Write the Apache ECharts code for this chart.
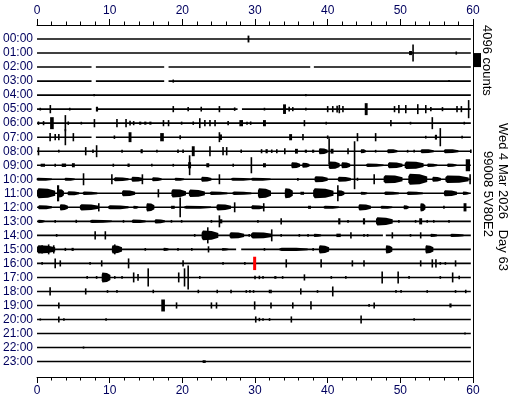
<!DOCTYPE html>
<html><head><meta charset="utf-8">
<script src="https://cdn.jsdelivr.net/npm/echarts@6/dist/echarts.min.js"></script>
<style>html,body{margin:0;padding:0;background:#fff}#c{width:512px;height:400px}</style>
</head><body><div id="c"></div>
<script>
const hourLabels = ['00:00','01:00','02:00','03:00','04:00','05:00','06:00','07:00','08:00','09:00','10:00','11:00','12:00','13:00','14:00','15:00','16:00','17:00','18:00','19:00','20:00','21:00','22:00','23:00'];
const COUNTS_PER_ROW = 4096;
const traceEnd = 59.7;
// data gaps per hour: [start minute, end minute]
const gaps = {2:[[7.5,8.1],[17.5,18.1],[37.6,38.1]], 3:[[7.5,8.1],[17.5,18.1]], 5:[[7.5,8.2],[27.6,28.2]], 7:[[7.5,8.1]], 14:[[47.6,48.0]], 15:[[27.4,28.1]]};
// events per hour: [minute, half amplitude (counts), duration (minutes)]
const h00 = [[29.1,1000,0.25]];
const h01 = [[51.4,600,0.4],[51.75,2500,0.1],[57.7,450,0.1]];
const h02 = [];
const h03 = [[18.75,450,0.2],[56.7,300,0.1]];
const h04 = [[7.86,300,0.1],[37.0,300,0.1]];
const h05 = [[0.45,400,0.1],[1.83,1200,0.15],[4.5,400,0.1],[8.25,700,0.3],[18.75,900,0.15],[20.8,600,0.1],[22.6,700,0.1],[25.1,900,0.1],[27.2,500,0.1],[31.3,400,0.1],[34.06,1400,0.4],[34.7,700,0.1],[35.2,600,0.1],[37.0,400,0.1],[40.0,900,0.1],[40.7,900,0.1],[41.3,1000,0.1],[41.6,1200,0.1],[42.1,900,0.1],[45.3,1750,0.4],[49.2,900,0.1],[49.8,1200,0.1],[50.75,1200,0.1],[52.4,1450,0.1],[53.5,1200,0.1],[54.2,600,0.1],[55.8,600,0.1],[57.8,900,0.1],[58.4,900,0.1],[59.4,2650,0.15]];
const h06 = [[0.2,500,0.1],[0.9,600,0.1],[2.05,1750,0.5],[3.9,2350,0.15],[4.3,500,0.1],[6.1,400,0.1],[7.9,1200,0.1],[11.0,1200,0.1],[12.25,1200,0.1],[12.8,700,0.1],[13.3,600,0.1],[14.2,450,0.3],[14.9,450,0.3],[15.6,450,0.3],[17.4,900,0.1],[18.1,900,0.1],[19.9,450,0.1],[21.5,500,0.1],[22.4,1450,0.1],[23.1,900,0.1],[23.8,900,0.1],[24.5,900,0.1],[26.3,600,0.1],[28.1,900,0.5],[28.9,450,0.2],[29.4,500,0.2],[31.3,900,0.4],[36.8,900,0.1],[39.8,400,0.1],[48.7,900,0.1],[51.4,400,0.1],[54.4,1750,0.15],[58.8,400,0.1]];
const h07 = [[1.8,1200,0.1],[2.5,900,0.1],[3.0,900,0.1],[3.9,2350,0.15],[5.0,1200,0.1],[10.65,500,0.1],[12.8,1450,0.4],[17.2,1200,0.5],[19.7,600,0.1],[25.1,1450,0.1],[25.3,800,0.3],[34.9,900,0.4],[36.6,900,0.1],[40.0,500,0.1],[44.1,1200,0.15],[46.6,1200,0.15],[53.5,400,0.1],[54.9,700,0.3],[55.5,2650,0.15],[58.5,400,0.1]];
const h08 = [[0.2,1200,0.1],[3.0,400,0.1],[6.7,1200,0.1],[7.7,500,0.1],[8.2,1750,0.1],[11.7,450,0.1],[14.4,600,0.3],[16.5,400,0.1],[19.4,500,0.1],[20.1,500,0.1],[21.5,1450,0.4],[23.8,1450,0.1],[25.6,1200,0.1],[26.1,1200,0.1],[28.1,500,0.1],[30.9,600,0.2],[31.6,600,0.3],[32.3,500,0.2],[33.0,600,0.2],[34.1,900,0.1],[35.7,700,0.4],[37.0,450,0.3],[38.0,450,0.3],[39.4,900,1.2],[40.2,3800,0.12],[40.6,700,0.4],[42.8,900,0.1],[44.9,600,0.7],[46.6,400,0.1],[48.9,600,1.4],[51.0,400,0.1],[51.9,400,0.1],[53.7,600,1.8],[57.0,600,2.0],[59.7,500,0.1]];
const h09 = [[0.8,450,0.6],[2.5,450,0.1],[3.7,500,0.6],[5.0,600,0.4],[10.5,450,0.1],[12.6,500,0.3],[15.8,400,0.1],[18.75,400,0.1],[21.0,2900,0.15],[21.0,900,0.4],[23.5,600,0.4],[27.0,450,0.1],[29.5,2350,0.15],[31.3,600,0.4],[35.6,900,1.2],[37.0,700,1.0],[40.9,1100,1.5],[42.5,900,1.2],[43.7,7000,0.15],[46.5,500,2.4],[49.3,900,2.0],[51.9,1100,2.6],[54.4,500,1.4],[57.1,500,1.3],[59.3,1750,0.6]];
const h10 = [[1.0,450,2.1],[4.5,450,1.4],[6.4,1750,0.15],[10.3,1450,0.1],[11.6,600,2.0],[13.8,700,1.6],[14.5,1450,0.1],[16.5,600,1.3],[19.6,450,1.3],[23.3,700,1.4],[25.1,1450,0.1],[28.1,450,2.8],[30.8,450,2.7],[35.9,400,0.1],[39.1,900,1.8],[42.3,700,1.8],[44.1,450,0.1],[46.4,1450,0.15],[49.0,1200,2.6],[52.4,1600,2.6],[55.0,700,1.2],[57.8,1100,3.2],[59.6,1450,0.15]];
const h11 = [[1.25,1450,2.5],[2.9,2350,0.3],[3.35,1200,0.7],[5.0,600,1.6],[7.3,500,2.0],[12.6,900,1.8],[16.7,1200,0.15],[19.5,1200,2.0],[22.0,1100,2.2],[25.0,500,2.4],[28.2,500,2.6],[31.3,1450,1.8],[34.65,1450,1.1],[36.5,450,0.5],[39.4,1450,2.8],[41.4,2350,0.15],[41.8,900,1.0],[45.0,450,0.9],[48.8,500,2.0],[52.0,500,2.2],[56.9,900,1.8],[59.0,500,0.8]];
const h12 = [[1.1,600,1.9],[3.7,900,1.1],[7.2,900,2.6],[8.5,1200,0.15],[11.2,600,2.8],[13.6,450,0.7],[15.6,1200,1.1],[18.7,450,0.5],[19.7,2900,0.15],[22.1,450,3.7],[25.7,900,2.0],[27.2,1450,0.15],[29.7,450,0.1],[30.4,600,1.8],[31.2,1200,0.15],[37.5,450,0.4],[40.5,450,2.1],[45.1,900,1.7],[48.1,450,1.6],[50.8,600,0.7],[53.1,1200,0.7],[56.0,450,0.1],[58.9,1200,0.4]];
const h13 = [[0.6,450,0.9],[2.5,400,0.1],[5.4,450,0.2],[8.8,450,3.0],[11.9,400,0.1],[14.0,500,1.9],[16.9,600,1.4],[18.5,400,0.1],[19.9,400,0.1],[24.0,400,0.1],[25.1,1750,0.15],[25.3,600,0.4],[30.4,400,0.1],[33.6,900,0.15],[41.6,900,0.3],[42.8,400,0.1],[45.0,900,0.3],[47.8,1200,2.3],[49.8,400,0.1],[52.1,400,0.1],[52.8,900,0.4],[53.7,400,0.1],[54.6,400,0.1],[56.7,400,0.1]];
const h14 = [[2.7,400,0.1],[8.0,1200,0.15],[9.4,1200,0.15],[21.7,400,0.1],[23.8,1450,2.3],[23.5,2350,0.15],[27.5,900,2.0],[29.2,400,0.1],[30.9,900,2.9],[32.3,1750,0.15],[33.6,400,0.1],[36.1,400,0.1],[37.3,400,0.1],[38.6,450,1.0],[41.5,500,0.6],[43.2,900,0.15],[45.0,400,0.1],[45.5,400,0.1],[48.9,900,0.15],[51.4,400,0.1],[52.8,900,0.15],[54.6,450,0.9],[57.8,450,1.8]];
const h15 = [[1.25,1200,2.5],[0.7,1200,0.15],[1.6,1450,0.15],[2.3,1200,0.15],[3.9,450,0.1],[4.9,450,0.3],[11.0,1200,1.4],[10.7,1450,0.15],[14.9,400,0.1],[17.75,450,0.7],[19.4,400,0.1],[21.3,400,0.1],[23.6,900,0.15],[25.9,400,0.9],[31.3,400,0.1],[35.3,500,3.9],[38.0,400,0.1],[39.5,1200,1.4],[48.45,1200,0.9],[54.0,1200,1.1]];
const h16 = [[0.7,400,0.1],[2.5,1450,0.15],[3.2,900,0.15],[7.3,400,0.1],[8.9,900,0.15],[12.6,1450,0.15],[20.1,900,0.15],[25.6,400,0.1],[28.6,400,0.1],[34.3,1200,0.15],[39.1,1200,0.15],[43.4,900,0.15],[45.0,900,0.15],[52.8,900,0.15],[54.4,1200,0.15],[54.9,1200,0.15],[55.5,400,0.1],[56.2,400,0.1],[57.6,900,0.15]];
const h17 = [[6.9,400,0.1],[8.2,400,0.1],[9.5,1450,1.2],[10.7,400,0.1],[11.7,400,0.1],[13.3,1450,0.15],[13.9,1000,0.15],[15.3,2650,0.15],[19.5,1450,0.2],[20.3,2650,0.15],[20.8,3500,0.2],[22.4,400,0.1],[30.0,500,0.1],[30.6,500,0.1],[31.1,400,0.1],[32.8,400,0.3],[33.8,400,0.1],[36.8,900,0.15],[40.5,400,0.1],[42.5,400,0.1],[47.5,1750,0.15],[49.7,1750,0.2],[51.2,400,0.1],[55.5,400,0.1],[57.2,1450,0.2],[58.1,500,0.1]];
const h18 = [[1.8,1200,0.2],[6.7,900,0.15],[9.7,400,0.1],[11.0,400,0.1],[16.0,500,0.1],[22.2,500,0.1],[24.8,500,0.1],[26.7,500,0.1],[28.8,400,0.1],[29.3,400,0.1],[29.8,400,0.1],[32.0,500,0.1],[32.2,500,0.1],[36.3,900,0.15],[38.6,400,0.1],[40.7,1450,0.2],[49.4,400,0.1],[50.1,400,0.1],[53.7,400,0.1],[57.6,400,0.1],[59.0,500,0.1]];
const h19 = [[3.0,900,0.15],[17.35,1750,0.5],[19.2,900,0.15],[24.0,900,0.15],[24.7,900,0.15],[29.95,1200,0.15],[32.2,900,0.15],[35.2,900,0.15],[37.7,1200,0.2],[45.7,400,0.1],[46.4,900,0.15],[56.9,600,0.3]];
const h20 = [[0.45,300,0.1],[3.0,900,0.15],[3.7,400,0.1],[9.5,400,0.1],[30.1,900,0.15],[30.6,500,0.1],[31.1,400,0.1],[32.0,400,0.1],[35.0,900,0.2],[44.6,1200,0.15],[51.9,400,0.1]];
const h21 = [[58.9,300,0.1]];
const h22 = [[6.4,300,0.1]];
const h23 = [[22.9,400,0.1],[23.1,400,0.1]];
const hourEvents = [h00,h01,h02,h03,h04,h05,h06,h07,h08,h09,h10,h11,h12,h13,h14,h15,h16,h17,h18,h19,h20,h21,h22,h23];
// red event marker: [hour, minute, half amplitude counts]
const marker = [[16, 29.95, 1950]];
const headerText = 'Wed 4 Mar 2026   Day 63';
const stationText = '99008 5V80E2';
const scaleText = '4096 counts';

// build data tables
const segData = [];
hourEvents.forEach((_, h) => {
  let start = 0;
  (gaps[h] || []).forEach(g => { segData.push([h, start, g[0]]); start = g[1]; });
  segData.push([h, start, traceEnd]);
});
const evData = [];
hourEvents.forEach((arr, h) => arr.forEach(e => evData.push([h, e[0], e[1], e[2]])));

const navy = '#00005e';
const chart = echarts.init(document.getElementById('c'), null, {renderer:'canvas'});
const xCommon = {
  type:'value', min:0, max:60, interval:10,
  axisLine:{show:true, onZero:false, lineStyle:{color:'#000', width:1}},
  axisTick:{show:true, inside:false, length:6, lineStyle:{color:'#000', width:1}},
  minorTick:{show:true, splitNumber:5, length:3.5, lineStyle:{color:'#000', width:1}},
  axisLabel:{color:navy, fontSize:12, fontFamily:'Liberation Sans, Arial, sans-serif', margin:8},
  splitLine:{show:false}
};
chart.setOption({
  animation:false,
  backgroundColor:'#fff',
  grid:{left:35, right:39, top:25, bottom:23},
  xAxis:[Object.assign({position:'top'}, xCommon), Object.assign({position:'bottom'}, xCommon)],
  yAxis:[
    {type:'value', inverse:true, min:-1, max:24.1, interval:1, position:'left',
     axisLine:{show:false}, axisTick:{show:false}, splitLine:{show:false},
     axisLabel:{color:navy, fontSize:12, fontFamily:'Liberation Sans, Arial, sans-serif', margin:4,
       formatter: v => (Number.isInteger(v) && v>=0 && v<=23) ? hourLabels[v] : ''}},
    {type:'value', inverse:true, min:-1, max:24.1, position:'right',
     axisLine:{show:true, onZero:false, lineStyle:{color:'#000', width:1}}, axisTick:{show:false},
     axisLabel:{show:false}, splitLine:{show:false}}
  ],
  series:[
    {type:'custom', xAxisIndex:0, yAxisIndex:0, data:segData, encode:{x:[1,2], y:0}, silent:true,
     renderItem:(p, api) => {
       const a = api.coord([api.value(1), api.value(0)]);
       const b = api.coord([api.value(2), api.value(0)]);
       return {type:'line', shape:{x1:a[0], y1:a[1], x2:b[0], y2:b[1]}, style:{stroke:'#000', lineWidth:1.6}};
     }},
    {type:'custom', xAxisIndex:0, yAxisIndex:0, data:evData, encode:{x:1, y:0}, silent:true,
     renderItem:(p, api) => {
       const h = api.value(0), t = api.value(1), a = api.value(2)/COUNTS_PER_ROW, d = api.value(3);
       const p0 = api.coord([t-d/2, h-a]);
       const p1 = api.coord([t+d/2, h+a]);
       const w = Math.max(p1[0]-p0[0], 1.6);
       const cx = (p0[0]+p1[0])/2;
       const top = Math.min(p0[1],p1[1]), hh = Math.abs(p1[1]-p0[1]);
       if (w < 5) {
         return {type:'rect', shape:{x:cx-w/2, y:top, width:w, height:hh}, style:{fill:'#000'}};
       }
       // longer wave trains: slightly tapered block envelope
       const x0 = cx-w/2, yc = top+hh/2, A = hh/2;
       const pts = [[x0,yc-0.55*A],[x0+0.08*w,yc-A],[x0+0.6*w,yc-0.9*A],[x0+w,yc-0.5*A],
                    [x0+w,yc+0.5*A],[x0+0.6*w,yc+0.9*A],[x0+0.08*w,yc+A],[x0,yc+0.55*A]];
       return {type:'polygon', shape:{points:pts}, style:{fill:'#000'}};
     }},
    {type:'custom', xAxisIndex:0, yAxisIndex:0, data:marker, encode:{x:1, y:0}, silent:true, z:5,
     renderItem:(p, api) => {
       const h = api.value(0), t = api.value(1), a = api.value(2)/COUNTS_PER_ROW;
       const p0 = api.coord([t, h-a]), p1 = api.coord([t, h+a]);
       return {type:'rect', shape:{x:p0[0]-1.5, y:Math.min(p0[1],p1[1]), width:3, height:Math.abs(p1[1]-p0[1])}, style:{fill:'#ff0000'}};
     }}
  ]
});
// scale bar (4096 counts = one row spacing) and side texts
const r1 = chart.convertToPixel({yAxisIndex:0}, 1);
const r2 = chart.convertToPixel({yAxisIndex:0}, 2);
const xr = chart.convertToPixel({xAxisIndex:0}, 60);
const font = '13px "Liberation Sans", Arial, sans-serif';
chart.setOption({graphic:[
  {type:'rect', shape:{x:xr, y:r1, width:8, height:r2-r1}, style:{fill:'#000'}},
  {type:'text', x:487, y:25, rotation:-Math.PI/2, style:{text:scaleText, font:font, fill:'#000', align:'left', verticalAlign:'middle'}},
  {type:'text', x:503, y:123, rotation:-Math.PI/2, style:{text:headerText, font:font, fill:'#000', align:'left', verticalAlign:'middle'}},
  {type:'text', x:488, y:151, rotation:-Math.PI/2, style:{text:stationText, font:font, fill:'#000', align:'left', verticalAlign:'middle'}}
]});
</script></body></html>
